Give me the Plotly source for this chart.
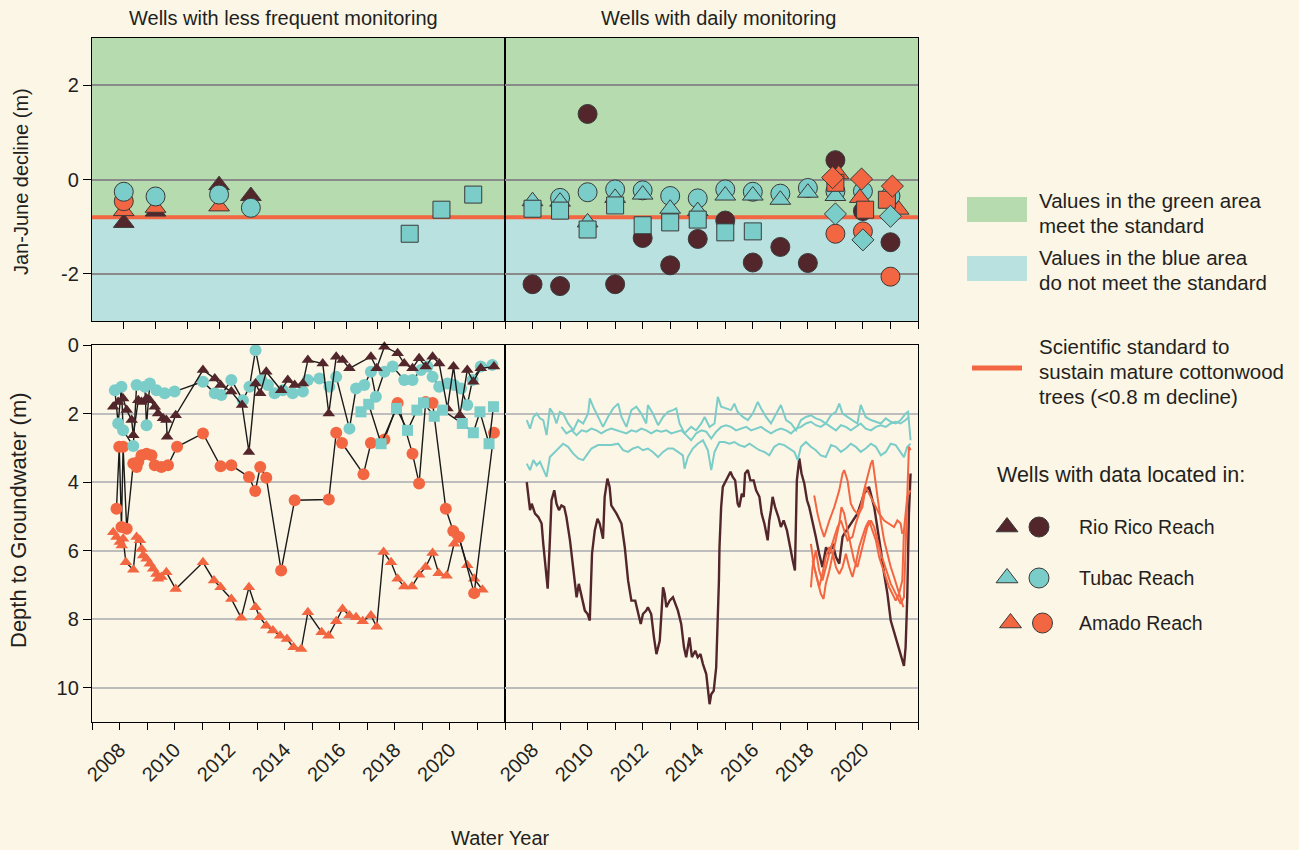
import plotly.graph_objects as go

# ---------------- colours / fonts ----------------
BG = "#FCF6E6"
GREEN = "#B6DBAF"
BLUE = "#B8E1E0"
ORANGE = "#F26641"
BROWN = "#52262A"
TEAL = "#7ACDC8"
OUTLINE = "#3A3A3A"
TXT = "#231F20"
FONT = "Liberation Sans, Arial, sans-serif"

STANDARD = -0.8  # m decline

# ---------------- top-left: Jan-June decline, less frequent monitoring ----------------
LF_RR_TRI_YR = [2008, 2009, 2011, 2012]
LF_RR_TRI_DECL = [-0.92, -0.68, -0.12, -0.35]
LF_AM_TRI_YR = [2008, 2009, 2011]
LF_AM_TRI_DECL = [-0.67, -0.60, -0.57]
LF_AM_CIR_YR = [2008]
LF_AM_CIR_DECL = [-0.46]
LF_TU_CIR_YR = [2008, 2009, 2011, 2012]
LF_TU_CIR_DECL = [-0.26, -0.36, -0.32, -0.60]
LF_TU_SQ_YR = [2017, 2018, 2019]
LF_TU_SQ_DECL = [-1.15, -0.64, -0.32]

# ---------------- top-right: Jan-June decline, daily monitoring ----------------
D_RR_CIR_YR = [2008, 2009, 2010, 2011, 2012, 2013, 2014, 2015, 2016, 2017, 2018, 2019, 2020, 2021]
D_RR_CIR_DECL = [-2.22, -2.26, 1.39, -2.22, -1.24, -1.82, -1.26, -0.87, -1.76, -1.43, -1.77, 0.41, -0.67, -1.33]
D_TU_CIR_YR = [2009, 2010, 2011, 2012, 2013, 2014, 2015, 2016, 2017, 2018, 2019, 2020, 2021]
D_TU_CIR_DECL = [-0.39, -0.27, -0.21, -0.23, -0.35, -0.40, -0.21, -0.26, -0.30, -0.18, -0.25, -0.25, -0.35]
D_TU_TRI_YR = [2008, 2009, 2010, 2011, 2012, 2013, 2014, 2015, 2016, 2017, 2018, 2019]
D_TU_TRI_DECL = [-0.46, -0.47, -0.91, -0.39, -0.32, -0.62, -0.67, -0.34, -0.34, -0.43, -0.28, -0.35]
D_TU_SQ_YR = [2008, 2009, 2010, 2011, 2012, 2013, 2014, 2015, 2016]
D_TU_SQ_DECL = [-0.62, -0.66, -1.06, -0.55, -0.97, -0.91, -0.85, -1.12, -1.10]
D_AM_CIR_YR = [2019, 2020, 2021]
D_AM_CIR_DECL = [-1.15, -1.10, -2.06]
D_AM_TRI_YR = [2019.12, 2019.89, 2021.3]
D_AM_TRI_DECL = [0.11, -0.39, -0.64]
D_AM_SQ_YR = [2019.0, 2020.08, 2020.87]
D_AM_SQ_DECL = [-0.07, -0.64, -0.43]
D_TU_DIA_YR = [2019, 2020, 2021]
D_TU_DIA_DECL = [-0.73, -1.28, -0.78]
D_AM_DIA_YR = [2018.9, 2019.95, 2021.07]
D_AM_DIA_DECL = [0.04, 0.01, -0.14]

# ---------------- bottom-left: depth to groundwater, less frequent monitoring ----------------
LF_TU_CIR_DATE = [2007.83, 2007.95, 2008.07, 2008.13, 2008.50, 2008.62, 2008.92, 2008.98, 2009.10, 2009.34,
                  2009.64, 2010.00, 2011.03, 2011.46, 2011.70, 2012.06, 2012.48, 2012.72, 2012.94, 2013.15,
                  2013.39, 2013.63, 2013.93, 2014.29, 2014.66, 2014.84, 2015.26, 2015.62, 2015.87, 2016.35,
                  2016.59, 2016.89, 2017.13, 2017.31, 2017.62, 2017.92, 2018.34, 2018.64, 2018.95, 2019.18,
                  2019.37, 2019.61, 2019.91, 2020.15, 2020.40, 2020.63, 2020.82, 2021.12, 2021.54]
LF_TU_CIR_DEPTH = [1.32, 2.29, 1.22, 2.49, 2.95, 1.17, 1.22, 2.34, 1.12, 1.32,
                   1.41, 1.36, 1.07, 1.41, 1.46, 1.02, 1.61, 1.22, 0.15, 1.02,
                   1.17, 1.41, 1.32, 1.41, 1.36, 1.02, 0.98, 1.22, 0.93, 2.44,
                   1.27, 1.17, 0.78, 1.51, 0.78, 0.63, 1.02, 1.02, 0.73, 0.63,
                   0.93, 1.22, 1.12, 1.17, 1.27, 1.75, 1.02, 0.63, 0.58]

LF_RR_TRI_DATE = [2007.77, 2007.95, 2008.13, 2008.26, 2008.44, 2008.50, 2008.68, 2008.80, 2008.98, 2009.10,
                  2009.28, 2009.40, 2009.58, 2009.70, 2009.73, 2010.04, 2011.03, 2011.46, 2011.67, 2012.06,
                  2012.45, 2012.70, 2012.94, 2013.11, 2013.33, 2013.87, 2014.11, 2014.36, 2014.66, 2014.84,
                  2015.38, 2015.60, 2015.87, 2016.10, 2016.35, 2017.13, 2017.34, 2017.62, 2018.10, 2018.34,
                  2018.64, 2018.88, 2019.12, 2019.37, 2019.61, 2019.91, 2020.13, 2020.36, 2020.63, 2020.85,
                  2021.12, 2021.60]
LF_RR_TRI_DEPTH = [1.80, 1.66, 1.56, 1.90, 2.19, 2.63, 1.61, 1.66, 1.56, 1.61,
                   1.80, 2.00, 2.14, 2.19, 2.68, 2.05, 0.73, 0.98, 1.17, 1.36,
                   1.75, 3.12, 1.12, 1.41, 0.78, 1.32, 1.02, 1.17, 1.12, 0.44,
                   0.54, 2.00, 0.34, 0.44, 0.68, 0.34, 0.68, 0.05, 0.24, 0.54,
                   0.68, 0.39, 0.63, 0.34, 0.54, 1.85, 0.63, 2.05, 0.73, 1.07,
                   0.68, 0.63]

LF_TU_SQ_DATE = [2016.77, 2017.05, 2017.50, 2018.06, 2018.46, 2018.80, 2019.04, 2019.43, 2019.73, 2020.45,
                 2020.85, 2021.09, 2021.42, 2021.58]
LF_TU_SQ_DEPTH = [1.95, 1.73, 2.88, 1.85, 2.49, 1.90, 1.69, 2.08, 1.90, 2.29,
                  2.56, 1.95, 2.88, 1.80]

LF_AM_CIR_DATE = [2007.89, 2007.99, 2008.07, 2008.13, 2008.26, 2008.50, 2008.62, 2008.68, 2008.80, 2008.98,
                  2009.16, 2009.28, 2009.52, 2009.76, 2010.09, 2011.03, 2011.67, 2012.06, 2012.70, 2012.93,
                  2013.11, 2013.33, 2013.87, 2014.36, 2015.60, 2015.87, 2016.08, 2016.86, 2017.13, 2017.62,
                  2018.10, 2018.64, 2018.88, 2019.12, 2019.37, 2019.85, 2020.12, 2020.33, 2020.88, 2021.60]
LF_AM_CIR_DEPTH = [4.78, 2.97, 5.31, 2.97, 5.36, 3.46, 3.56, 3.41, 3.22, 3.17,
                   3.22, 3.51, 3.56, 3.51, 2.97, 2.58, 3.54, 3.51, 3.85, 4.26,
                   3.56, 3.87, 6.58, 4.53, 4.51, 2.56, 2.86, 3.77, 2.86, 2.76,
                   1.69, 3.17, 4.04, 1.66, 1.69, 4.78, 5.43, 5.60, 7.24, 2.56]

LF_AM_TRI_DATE = [2007.77, 2007.89, 2008.01, 2008.08, 2008.13, 2008.23, 2008.50, 2008.62, 2008.74, 2008.80,
                  2008.86, 2008.98, 2009.10, 2009.22, 2009.34, 2009.40, 2009.52, 2009.70, 2010.04, 2011.03,
                  2011.43, 2011.67, 2012.06, 2012.42, 2012.70, 2012.94, 2013.09, 2013.33, 2013.57, 2013.83,
                  2014.08, 2014.32, 2014.60, 2014.84, 2015.34, 2015.59, 2015.87, 2016.10, 2016.35, 2016.59,
                  2016.83, 2017.13, 2017.34, 2017.59, 2017.86, 2018.10, 2018.34, 2018.62, 2018.88, 2019.12,
                  2019.37, 2019.59, 2019.88, 2020.15, 2020.30, 2020.63, 2020.88, 2021.18]
LF_AM_TRI_DEPTH = [5.46, 5.60, 5.75, 5.85, 5.65, 6.34, 6.56, 5.60, 5.70, 5.95,
                   6.14, 6.24, 6.38, 6.53, 6.68, 6.82, 6.77, 6.63, 7.12, 6.34,
                   6.87, 7.07, 7.41, 7.96, 7.07, 7.65, 7.94, 8.19, 8.33, 8.48,
                   8.58, 8.82, 8.87, 7.80, 8.38, 8.48, 8.06, 7.70, 7.89, 7.94,
                   8.06, 7.89, 8.22, 6.04, 6.34, 6.82, 7.05, 7.05, 6.70, 6.48,
                   6.07, 6.66, 6.73, 5.80, 5.55, 6.43, 6.82, 7.14]

# ---------------- bottom-right: depth to groundwater, daily monitoring ----------------
RR_DAILY_DATE = [2007.79, 2007.91, 2007.97, 2008.09, 2008.21, 2008.33, 2008.39, 2008.45, 2008.55, 2008.63,
                 2008.69, 2008.79, 2008.87, 2008.96, 2009.05, 2009.15, 2009.23, 2009.36, 2009.51, 2009.60,
                 2009.68, 2009.78, 2009.90, 2010.00, 2010.08, 2010.16, 2010.26, 2010.36, 2010.44, 2010.56,
                 2010.62, 2010.72, 2010.80, 2010.86, 2011.05, 2011.23, 2011.35, 2011.47, 2011.59, 2011.73,
                 2011.83, 2011.93, 2012.01, 2012.13, 2012.19, 2012.31, 2012.41, 2012.50, 2012.62, 2012.68,
                 2012.74, 2012.80, 2012.86, 2012.98, 2013.10, 2013.28, 2013.40, 2013.50, 2013.58, 2013.70,
                 2013.79, 2013.91, 2014.00, 2014.10, 2014.19, 2014.31, 2014.37, 2014.43, 2014.49, 2014.58,
                 2014.67, 2014.73, 2014.77, 2014.79, 2014.85, 2014.91, 2015.00, 2015.09, 2015.19, 2015.27,
                 2015.36, 2015.45, 2015.51, 2015.60, 2015.67, 2015.72, 2015.82, 2015.91, 2016.03, 2016.12,
                 2016.24, 2016.32, 2016.42, 2016.54, 2016.60, 2016.66, 2016.72, 2016.81, 2016.93, 2017.02,
                 2017.12, 2017.24, 2017.36, 2017.45, 2017.53, 2017.60, 2017.69, 2017.77, 2017.87, 2017.97,
                 2018.05, 2018.17, 2018.29, 2018.41, 2018.53, 2018.66, 2018.78, 2018.90, 2019.02, 2019.14,
                 2019.26, 2019.32, 2019.56, 2019.80, 2020.04, 2020.22, 2020.41, 2020.53, 2020.65, 2020.77,
                 2020.89, 2021.01, 2021.19, 2021.37, 2021.49, 2021.55, 2021.61, 2021.67, 2021.73]
RR_DAILY_DEPTH = [4.00, 4.82, 4.63, 4.92, 5.02, 5.21, 5.80, 6.29, 7.11, 5.70,
                  4.53, 4.24, 4.63, 4.82, 4.68, 4.73, 5.02, 5.70, 6.87, 7.36,
                  6.97, 7.36, 7.75, 7.85, 8.04, 6.09, 5.41, 5.07, 5.21, 5.65,
                  4.43, 3.90, 4.14, 4.68, 4.92, 5.21, 5.90, 6.87, 7.46, 7.46,
                  7.85, 8.14, 7.85, 7.75, 7.65, 7.85, 8.53, 9.02, 8.63, 7.65,
                  7.07, 7.26, 7.65, 7.46, 7.36, 7.75, 8.14, 8.82, 9.11, 8.53,
                  9.11, 8.92, 9.11, 9.02, 9.31, 9.60, 10.09, 10.48, 10.19, 10.09,
                  9.41, 8.04, 6.87, 5.90, 4.73, 4.14, 4.00, 3.85, 3.70, 3.85,
                  3.95, 4.63, 4.73, 4.34, 4.43, 3.75, 3.65, 3.95, 3.95, 4.24,
                  4.43, 4.92, 5.21, 5.70, 5.12, 4.82, 4.43, 4.73, 5.02, 5.31,
                  5.12, 5.41, 5.99, 6.29, 6.58, 3.95, 3.31, 3.75, 4.04, 4.53,
                  4.73, 5.12, 5.60, 6.09, 6.48, 5.90, 6.09, 5.80, 6.19, 6.38,
                  5.60, 5.51, 5.21, 4.92, 4.34, 4.14, 4.73, 5.31, 5.99, 6.68,
                  7.26, 8.04, 8.53, 9.02, 9.36, 8.82, 7.36, 4.92, 3.75]

TU_DAILY_1_DATE = [2007.79, 2007.91, 2008.03, 2008.15, 2008.27, 2008.39, 2008.51, 2008.63, 2008.75, 2008.87,
                   2008.99, 2009.11, 2009.29, 2009.48, 2009.66, 2009.84, 2010.02, 2010.08, 2010.20, 2010.38,
                   2010.56, 2010.74, 2010.93, 2011.11, 2011.23, 2011.41, 2011.59, 2011.77, 2011.95, 2012.13,
                   2012.19, 2012.37, 2012.56, 2012.74, 2012.92, 2013.10, 2013.22, 2013.34, 2013.52, 2013.76,
                   2013.94, 2014.13, 2014.25, 2014.43, 2014.61, 2014.73, 2014.85, 2015.03, 2015.21, 2015.33,
                   2015.45, 2015.64, 2015.82, 2016.00, 2016.18, 2016.30, 2016.48, 2016.66, 2016.84, 2017.02,
                   2017.21, 2017.39, 2017.57, 2017.75, 2017.93, 2018.11, 2018.29, 2018.47, 2018.65, 2018.84,
                   2019.02, 2019.14, 2019.26, 2019.44, 2019.62, 2019.80, 2019.92, 2020.10, 2020.29, 2020.47,
                   2020.65, 2020.83, 2021.01, 2021.19, 2021.37, 2021.55, 2021.64, 2021.73]
TU_DAILY_1_DEPTH = [2.19, 2.44, 2.10, 2.00, 2.14, 2.19, 2.63, 1.85, 2.00, 2.29,
                    1.95, 2.00, 2.29, 2.49, 2.19, 2.29, 2.00, 1.56, 1.80, 2.10,
                    2.39, 2.10, 1.85, 1.71, 2.10, 2.39, 1.90, 1.80, 2.00, 2.29,
                    1.75, 2.00, 2.34, 2.10, 1.95, 1.90, 1.85, 2.29, 2.58, 2.39,
                    2.49, 2.29, 2.10, 2.39, 2.29, 1.51, 1.80, 1.85, 1.90, 1.71,
                    1.95, 2.10, 2.19, 2.00, 1.66, 1.85, 2.10, 2.29, 2.00, 1.75,
                    2.19, 2.29, 2.49, 2.19, 2.10, 2.05, 2.14, 2.19, 2.29, 2.05,
                    1.95, 1.71, 2.00, 2.10, 2.19, 2.29, 1.75, 2.10, 2.19, 2.24,
                    2.29, 2.14, 2.24, 2.29, 2.19, 2.00, 1.95, 2.78]

TU_DAILY_2_DATE = [2009.05, 2009.23, 2009.42, 2009.60, 2009.78, 2009.96, 2010.14, 2010.32, 2010.50, 2010.68,
                   2010.86, 2011.05, 2011.23, 2011.41, 2011.59, 2011.77, 2011.95, 2012.13, 2012.31, 2012.50,
                   2012.68, 2012.86, 2013.04, 2013.22, 2013.40, 2013.58, 2013.76, 2013.94, 2014.13, 2014.31,
                   2014.49, 2014.67, 2014.85, 2015.03, 2015.21, 2015.39, 2015.57, 2015.76, 2015.94, 2016.12,
                   2016.30, 2016.48, 2016.66, 2016.84, 2017.02, 2017.21, 2017.39, 2017.57, 2017.75, 2017.93,
                   2018.11, 2018.29, 2018.47, 2018.65, 2018.84, 2019.02, 2019.20, 2019.38, 2019.56, 2019.74,
                   2019.92, 2020.10, 2020.29, 2020.47, 2020.65, 2020.83, 2021.01, 2021.19, 2021.37, 2021.55,
                   2021.67]
TU_DAILY_2_DEPTH = [2.39, 2.58, 2.49, 2.63, 2.49, 2.53, 2.44, 2.49, 2.58, 2.49,
                    2.44, 2.49, 2.53, 2.58, 2.49, 2.53, 2.44, 2.49, 2.58, 2.49,
                    2.53, 2.49, 2.58, 2.53, 2.49, 2.63, 2.78, 2.58, 2.49, 2.53,
                    2.73, 2.53, 2.39, 2.34, 2.39, 2.49, 2.44, 2.39, 2.49, 2.44,
                    2.39, 2.49, 2.58, 2.49, 2.44, 2.49, 2.58, 2.44, 2.39, 2.29,
                    2.24, 2.34, 2.39, 2.29, 2.39, 2.49, 2.34, 2.39, 2.49, 2.39,
                    2.29, 2.44, 2.49, 2.39, 2.34, 2.39, 2.29, 2.24, 2.29, 2.19,
                    2.10]

TU_DAILY_3_DATE = [2007.79, 2007.91, 2008.03, 2008.15, 2008.27, 2008.39, 2008.51, 2008.63, 2008.75, 2008.93,
                   2009.11, 2009.29, 2009.48, 2009.66, 2009.84, 2009.96, 2010.14, 2010.38, 2010.62, 2010.86,
                   2011.11, 2011.29, 2011.47, 2011.65, 2011.83, 2012.01, 2012.19, 2012.37, 2012.56, 2012.74,
                   2012.92, 2013.10, 2013.28, 2013.46, 2013.52, 2013.64, 2013.82, 2014.00, 2014.19, 2014.37,
                   2014.49, 2014.61, 2014.79, 2014.97, 2015.15, 2015.33, 2015.51, 2015.70, 2015.88, 2016.06,
                   2016.24, 2016.42, 2016.60, 2016.78, 2016.96, 2017.14, 2017.33, 2017.51, 2017.63, 2017.75,
                   2017.93, 2018.11, 2018.29, 2018.47, 2018.65, 2018.84, 2019.02, 2019.20, 2019.38, 2019.56,
                   2019.74, 2019.92, 2020.10, 2020.29, 2020.47, 2020.65, 2020.83, 2021.01, 2021.19, 2021.37,
                   2021.49, 2021.61, 2021.73]
TU_DAILY_3_DEPTH = [3.46, 3.65, 3.36, 3.51, 3.41, 3.65, 3.85, 3.27, 3.17, 3.02,
                    2.88, 2.97, 3.17, 3.31, 3.36, 3.22, 3.02, 2.92, 2.92, 2.92,
                    2.88, 3.07, 3.12, 3.02, 2.97, 3.07, 3.02, 3.12, 3.27, 3.12,
                    3.02, 3.02, 3.12, 3.22, 3.61, 3.27, 3.02, 2.88, 2.78, 3.07,
                    3.65, 3.12, 2.83, 2.83, 2.88, 2.83, 2.92, 2.97, 2.88, 2.97,
                    3.07, 3.12, 3.22, 2.97, 2.88, 2.92, 3.02, 3.12, 3.36, 2.97,
                    2.83, 2.97, 3.07, 3.22, 3.27, 2.92, 2.97, 3.12, 3.02, 2.88,
                    2.97, 3.12, 3.02, 2.88, 2.97, 3.22, 3.12, 2.88, 2.92, 3.12,
                    3.27, 2.97, 2.88]

AM_DAILY_1_DATE = [2018.23, 2018.35, 2018.47, 2018.59, 2018.78, 2018.96, 2019.14, 2019.26, 2019.32, 2019.44,
                   2019.56, 2019.68, 2019.80, 2019.92, 2020.04, 2020.16, 2020.29, 2020.35, 2020.41, 2020.53,
                   2020.65, 2020.77, 2020.89, 2021.01, 2021.13, 2021.25, 2021.37, 2021.47]
AM_DAILY_1_DEPTH = [4.39, 4.92, 5.31, 5.60, 5.12, 4.73, 4.24, 3.75, 3.65, 3.95,
                    4.63, 4.82, 4.92, 4.73, 4.24, 3.85, 3.46, 3.36, 3.75, 4.43,
                    5.12, 5.70, 6.09, 6.48, 6.77, 7.07, 7.36, 7.65]

AM_DAILY_2_DATE = [2018.11, 2018.23, 2018.35, 2018.47, 2018.57, 2018.65, 2018.78, 2018.90, 2019.02, 2019.14,
                   2019.22, 2019.32, 2019.44, 2019.56, 2019.68, 2019.80, 2019.92, 2020.04, 2020.16, 2020.29,
                   2020.41, 2020.53, 2020.65, 2020.77, 2020.89, 2021.01, 2021.13, 2021.25, 2021.37, 2021.49,
                   2021.55, 2021.61, 2021.67, 2021.73]
AM_DAILY_2_DEPTH = [5.80, 6.48, 6.87, 7.26, 7.41, 6.97, 6.58, 6.09, 5.70, 5.21,
                    4.73, 4.92, 5.41, 5.90, 6.29, 6.48, 6.09, 5.70, 5.31, 5.12,
                    5.31, 5.70, 6.09, 6.38, 6.68, 6.97, 7.16, 7.36, 7.55, 7.36,
                    5.90, 3.95, 2.97, 3.07]

AM_DAILY_3_DATE = [2018.11, 2018.17, 2018.29, 2018.41, 2018.53, 2018.65, 2018.78, 2018.96, 2019.08, 2019.20,
                   2019.32, 2019.44, 2019.62, 2019.74, 2019.86, 2019.98, 2020.10, 2020.22, 2020.41, 2020.59,
                   2020.77, 2020.95, 2021.13, 2021.25, 2021.37, 2021.43]
AM_DAILY_3_DEPTH = [7.07, 6.48, 5.99, 6.58, 6.87, 6.48, 6.09, 5.60, 5.31, 5.12,
                    5.41, 5.70, 5.60, 5.21, 4.92, 4.73, 4.14, 4.34, 4.63, 4.92,
                    5.12, 5.21, 5.31, 5.12, 5.21, 5.51]

AM_DAILY_4_DATE = [2018.17, 2018.29, 2018.41, 2018.53, 2018.65, 2018.78, 2018.90, 2019.02, 2019.14, 2019.26,
                   2019.38, 2019.50, 2019.62, 2019.74, 2019.86, 2019.98, 2020.10, 2020.22, 2020.35, 2020.47,
                   2020.59, 2020.71, 2020.83, 2020.95, 2021.07, 2021.19, 2021.31, 2021.43, 2021.49, 2021.61,
                   2021.73]
AM_DAILY_4_DEPTH = [6.29, 6.68, 7.07, 6.68, 6.19, 5.90, 6.09, 6.48, 6.68, 6.48,
                    6.09, 6.48, 6.77, 6.38, 5.90, 5.60, 5.31, 5.12, 5.41, 5.70,
                    6.19, 6.48, 6.77, 7.07, 7.26, 7.46, 7.26, 6.87, 5.41, 4.43,
                    4.24]

# ---------------- axis labels ----------------
TOP_Y_TICKS = [-2, 0, 2]
TOP_Y_TEXT = ["-2", "0", "2"]
BOT_Y_TICKS = [0, 2, 4, 6, 8, 10]
YEAR_TICKS = list(range(2007, 2023))
YEAR_TEXT = [str(y) if (y % 2 == 0 and 2008 <= y <= 2020) else "" for y in YEAR_TICKS]
LF_TOP_TICKS = list(range(2008, 2020))

LEGEND_REACHES = ["Rio Rico Reach", "Tubac Reach", "Amado Reach"]
LEGEND_COLORS = [BROWN, TEAL, ORANGE]

# ---------------- figure geometry (pixels) ----------------
W, H = 1299, 850
XL0, XL1, XR1 = 92, 505, 918
TOP_Y0, TOP_Y1 = 38, 321
BOT_Y0, BOT_Y1 = 345, 722


def xdom(a, b):
    return [a / W, b / W]


def ydom(top, bottom):
    return [1 - bottom / H, 1 - top / H]


fig = go.Figure()


def mk(sym, color, size, outline=True):
    d = dict(symbol=sym, color=color, size=size)
    d["line"] = dict(color=OUTLINE, width=1) if outline else dict(width=0)
    return d


def pts(x, y, xa, ya, marker, mode="markers", line=None):
    kw = dict(x=x, y=y, xaxis=xa, yaxis=ya, mode=mode, marker=marker,
              showlegend=False, hoverinfo="skip", cliponaxis=False)
    if line is not None:
        kw["line"] = line
    fig.add_trace(go.Scatter(**kw))


# top-left
pts(LF_RR_TRI_YR, LF_RR_TRI_DECL, "x", "y", mk("triangle-up", BROWN, 18))
pts(LF_AM_TRI_YR, LF_AM_TRI_DECL, "x", "y", mk("triangle-up", ORANGE, 18))
pts(LF_AM_CIR_YR, LF_AM_CIR_DECL, "x", "y", mk("circle", ORANGE, 19))
pts(LF_TU_CIR_YR, LF_TU_CIR_DECL, "x", "y", mk("circle", TEAL, 19))
pts(LF_TU_SQ_YR, LF_TU_SQ_DECL, "x", "y", mk("square", TEAL, 17))

# top-right
pts(D_RR_CIR_YR, D_RR_CIR_DECL, "x2", "y2", mk("circle", BROWN, 19))
pts(D_TU_CIR_YR, D_TU_CIR_DECL, "x2", "y2", mk("circle", TEAL, 19))
pts(D_TU_TRI_YR, D_TU_TRI_DECL, "x2", "y2", mk("triangle-up", TEAL, 18))
pts(D_TU_SQ_YR, D_TU_SQ_DECL, "x2", "y2", mk("square", TEAL, 17))
pts(D_AM_CIR_YR, D_AM_CIR_DECL, "x2", "y2", mk("circle", ORANGE, 19))
pts(D_AM_TRI_YR, D_AM_TRI_DECL, "x2", "y2", mk("triangle-up", ORANGE, 18))
pts(D_AM_SQ_YR, D_AM_SQ_DECL, "x2", "y2", mk("square", ORANGE, 17))
pts(D_TU_DIA_YR, D_TU_DIA_DECL, "x2", "y2", mk("diamond", TEAL, 17))
pts(D_AM_DIA_YR, D_AM_DIA_DECL, "x2", "y2", mk("diamond", ORANGE, 17))

# bottom-left
BL = dict(color="#1a1a1a", width=1.4)
pts(LF_AM_TRI_DATE, LF_AM_TRI_DEPTH, "x3", "y3", mk("triangle-up", ORANGE, 11, False), "lines+markers", BL)
pts(LF_AM_CIR_DATE, LF_AM_CIR_DEPTH, "x3", "y3", mk("circle", ORANGE, 12, False), "lines+markers", BL)
pts(LF_TU_CIR_DATE, LF_TU_CIR_DEPTH, "x3", "y3", mk("circle", TEAL, 12, False), "lines+markers", BL)
pts(LF_RR_TRI_DATE, LF_RR_TRI_DEPTH, "x3", "y3", mk("triangle-up", BROWN, 11, False), "lines+markers", BL)
pts(LF_TU_SQ_DATE, LF_TU_SQ_DEPTH, "x3", "y3", mk("square", TEAL, 11, False), "lines+markers", BL)

# bottom-right (daily series)
for xs, ys, c, w in [(RR_DAILY_DATE, RR_DAILY_DEPTH, BROWN, 2.4),
                     (TU_DAILY_1_DATE, TU_DAILY_1_DEPTH, TEAL, 2.0),
                     (TU_DAILY_2_DATE, TU_DAILY_2_DEPTH, TEAL, 2.0),
                     (TU_DAILY_3_DATE, TU_DAILY_3_DEPTH, TEAL, 2.0),
                     (AM_DAILY_1_DATE, AM_DAILY_1_DEPTH, ORANGE, 2.0),
                     (AM_DAILY_2_DATE, AM_DAILY_2_DEPTH, ORANGE, 2.0),
                     (AM_DAILY_3_DATE, AM_DAILY_3_DEPTH, ORANGE, 2.0),
                     (AM_DAILY_4_DATE, AM_DAILY_4_DEPTH, ORANGE, 2.0)]:
    fig.add_trace(go.Scatter(x=xs, y=ys, xaxis="x4", yaxis="y4", mode="lines",
                             line=dict(color=c, width=w), showlegend=False, hoverinfo="skip"))

# legend keys on a pixel-space overlay axis
LEG_ROW_Y = [527, 578, 623]
for i, (name, col) in enumerate(zip(LEGEND_REACHES, LEGEND_COLORS)):
    dx = 3.5 if i == 2 else 0
    fig.add_trace(go.Scatter(x=[1007 + dx], y=[LEG_ROW_Y[i]], xaxis="x5", yaxis="y5", mode="markers",
                             marker=mk("triangle-up", col, 19), showlegend=False, hoverinfo="skip",
                             cliponaxis=False))
    fig.add_trace(go.Scatter(x=[1039 + dx], y=[LEG_ROW_Y[i]], xaxis="x5", yaxis="y5", mode="markers",
                             marker=mk("circle", col, 20), showlegend=False, hoverinfo="skip",
                             cliponaxis=False))

AX_LINE = dict(showline=True, linecolor="black", linewidth=1.4, mirror=True, zeroline=False,
               automargin=False, fixedrange=True)
TICKFONT = dict(family=FONT, size=20, color=TXT)

shapes = []
for xa, ya in [("x", "y"), ("x2", "y2")]:
    shapes.append(dict(type="rect", xref=f"{xa} domain", yref=ya, x0=0, x1=1, y0=STANDARD, y1=3,
                       fillcolor=GREEN, line=dict(width=0), layer="below"))
    shapes.append(dict(type="rect", xref=f"{xa} domain", yref=ya, x0=0, x1=1, y0=-3, y1=STANDARD,
                       fillcolor=BLUE, line=dict(width=0), layer="below"))
    shapes.append(dict(type="line", xref=f"{xa} domain", yref=ya, x0=0, x1=1, y0=STANDARD, y1=STANDARD,
                       line=dict(color=ORANGE, width=4), layer="below"))

# legend swatches (pixel overlay)
shapes.append(dict(type="rect", xref="x5", yref="y5", x0=967, x1=1027, y0=197, y1=222,
                   fillcolor=GREEN, line=dict(width=0)))
shapes.append(dict(type="rect", xref="x5", yref="y5", x0=967, x1=1027, y0=256, y1=281,
                   fillcolor=BLUE, line=dict(width=0)))
shapes.append(dict(type="line", xref="x5", yref="y5", x0=972, x1=1022, y0=368, y1=368,
                   line=dict(color=ORANGE, width=5)))


def ann(text, x, y, size=20, xanchor="left", angle=0):
    return dict(text=text, x=x, y=y, xref="x5", yref="y5", showarrow=False, xanchor=xanchor,
                yanchor="middle", textangle=angle, font=dict(family=FONT, size=size, color=TXT))


annotations = [
    ann("Wells with less frequent monitoring", 283, 18, 20, "center"),
    ann("Wells with daily monitoring", 718, 18, 20, "center"),
    ann("Jan-June decline (m)", 21, 182, 20, "center", -90),
    ann("Depth to Groundwater (m)", 18, 520, 22, "center", -90),
    ann("Water Year", 500, 838, 20, "center"),
    ann("Values in the green area", 1037, 200, 20.5),
    ann("meet the standard", 1037, 225, 20.5),
    ann("Values in the blue area", 1037, 257, 20.5),
    ann("do not meet the standard", 1037, 282, 20.5),
    ann("Scientific standard to", 1037, 346, 20.5),
    ann("sustain mature cottonwood", 1037, 371, 20.5),
    ann("trees (<0.8 m decline)", 1037, 396, 20.5),
    ann("Wells with data located in:", 995, 475, 21.5),
]
for i, name in enumerate(LEGEND_REACHES):
    annotations.append(ann(name, 1077, LEG_ROW_Y[i], 19.5))

fig.update_layout(
    width=W, height=H, autosize=False,
    margin=dict(l=0, r=0, t=0, b=0, pad=0),
    paper_bgcolor=BG, plot_bgcolor="rgba(0,0,0,0)",
    font=dict(family=FONT, color=TXT),
    showlegend=False,
    shapes=shapes,
    annotations=annotations,
    # top-left
    xaxis=dict(domain=xdom(XL0, XL1), range=[2007, 2020], anchor="y", tickmode="array",
               tickvals=LF_TOP_TICKS, ticks="outside", ticklen=7, tickcolor="black",
               showticklabels=False, showgrid=False, **AX_LINE),
    yaxis=dict(domain=ydom(TOP_Y0, TOP_Y1), range=[-3, 3], anchor="x", tickmode="array",
               tickvals=TOP_Y_TICKS, ticktext=TOP_Y_TEXT, ticks="outside", ticklen=8,
               tickcolor="black", tickfont=TICKFONT, showgrid=True, gridcolor="#8a8a8a",
               gridwidth=2, **AX_LINE),
    # top-right
    xaxis2=dict(domain=xdom(XL1, XR1), range=[2007, 2022], anchor="y2", tickmode="array",
                tickvals=YEAR_TICKS, ticks="outside", ticklen=7, tickcolor="black",
                showticklabels=False, showgrid=False, **AX_LINE),
    yaxis2=dict(domain=ydom(TOP_Y0, TOP_Y1), range=[-3, 3], anchor="x2", tickmode="array",
                tickvals=TOP_Y_TICKS, ticks="", showticklabels=False, showgrid=True,
                gridcolor="#8a8a8a", gridwidth=2, **AX_LINE),
    # bottom-left
    xaxis3=dict(domain=xdom(XL0, XL1), range=[2007, 2022], anchor="y3", tickmode="array",
                tickvals=YEAR_TICKS, ticktext=YEAR_TEXT, tickangle=-45, ticks="outside",
                ticklen=7, tickcolor="black", tickfont=TICKFONT, showgrid=False, **AX_LINE),
    yaxis3=dict(domain=ydom(BOT_Y0, BOT_Y1), range=[11, 0], anchor="x3", tickmode="array",
                tickvals=BOT_Y_TICKS, ticks="outside", ticklen=8, tickcolor="black",
                tickfont=TICKFONT, showgrid=True, gridcolor="#BDBDBD", gridwidth=2, **AX_LINE),
    # bottom-right
    xaxis4=dict(domain=xdom(XL1, XR1), range=[2007, 2022], anchor="y4", tickmode="array",
                tickvals=YEAR_TICKS, ticktext=YEAR_TEXT, tickangle=-45, ticks="outside",
                ticklen=7, tickcolor="black", tickfont=TICKFONT, showgrid=False, **AX_LINE),
    yaxis4=dict(domain=ydom(BOT_Y0, BOT_Y1), range=[11, 0], anchor="x4", tickmode="array",
                tickvals=BOT_Y_TICKS, ticks="", showticklabels=False, showgrid=True,
                gridcolor="#BDBDBD", gridwidth=2, **AX_LINE),
    # pixel-space overlay for legend / labels
    xaxis5=dict(domain=[0, 1], range=[0, W], anchor="y5", visible=False, fixedrange=True),
    yaxis5=dict(domain=[0, 1], range=[H, 0], anchor="x5", visible=False, fixedrange=True),
)

fig.write_html("out.html", post_script="document.body.style.margin='0px';",
               config={"displayModeBar": False})
